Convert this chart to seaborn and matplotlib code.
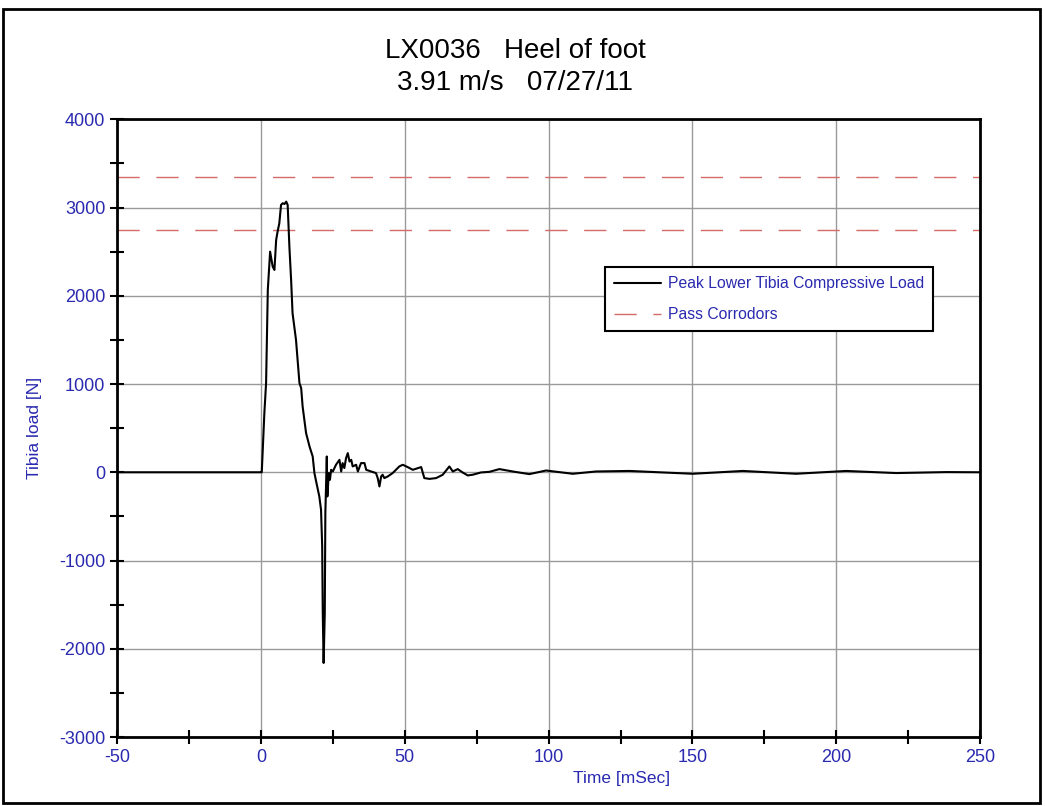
import numpy as np
import pandas as pd
import matplotlib
matplotlib.use("Agg")
import matplotlib.pyplot as plt
from matplotlib.patches import Rectangle
from matplotlib.ticker import MultipleLocator
import seaborn as sns

# Values
time_ms = [-50, 0, 0.3, 1.2, 1.8, 2.4, 3.2, 4.1, 4.7, 5.3, 5.8, 6.4, 7.0, 7.6, 8.2, 8.8,
           9.3, 9.9, 10.5, 11.0, 12.2, 13.4, 14.0, 14.5, 15.7, 16.9, 18.0, 18.6, 19.2,
           20.3, 20.9, 21.3, 21.5, 21.8, 22.2, 22.4, 22.9, 23.1, 23.6, 24.0, 24.4, 25.0,
           26.1, 27.3, 27.9, 28.4, 29.0, 29.6, 30.2, 30.8, 31.4, 31.9, 33.1, 33.7, 34.8,
           36.0, 36.6, 38.3, 40.0, 40.6, 41.2, 41.8, 42.3, 42.9, 44.1, 45.8, 48.1, 49.3,
           51.0, 52.8, 55.7, 56.8, 58.6, 60.9, 63.2, 65.5, 66.7, 68.4, 70.1, 71.9, 73.6,
           76.5, 79.4, 82.9, 87.5, 93.3, 99.1, 108.4, 116.5, 128.1, 139.7, 150.1, 167.5,
           186.0, 203.4, 220.8, 238.2, 250]
tibia_load = [0, 0, 0, 670, 1010, 2067, 2500, 2330, 2293, 2633, 2727, 2822, 3030, 3049,
              3040, 3067, 3030, 2557, 2180, 1803, 1500, 1010, 953, 745, 444, 292, 179, -9,
              -104, -274, -425, -840, -1595, -2161, -1595, -462, 179, -274, -9, -85, 28, 9,
              85, 141, 9, 104, 48, 161, 217, 122, 141, 66, 85, 9, 104, 104, 28, 9, -9, -66,
              -161, -47, -28, -66, -47, -9, 66, 85, 59, 28, 59, -66, -75, -66, -28, 66, 9,
              36, -2, -36, -28, -2, 5, 36, 9, -21, 20, -17, 9, 15, -2, -17, 15, -17, 15,
              -9, 2, 0]
corridor_levels = [3350, 2740]

series_label = "Peak Lower Tibia Compressive Load"
corridor_label = "Pass Corrodors"
title_text = "LX0036   Heel of foot\n3.91 m/s   07/27/11"

blue = "#2a2ab0"

sns.set_theme(style="white")
plt.rcParams["font.family"] = ["Liberation Sans", "DejaVu Sans"]
plt.rcParams["axes.unicode_minus"] = False

df = pd.DataFrame({"time": time_ms, "load": tibia_load})

fig = plt.figure(figsize=(10.45, 8.06), dpi=100)
ax = fig.add_axes([0.112, 0.0856, 0.826, 0.7664])

sns.lineplot(data=df, x="time", y="load", estimator=None, sort=False,
             color="black", linewidth=1.5, label=series_label, ax=ax, zorder=3)
for i, lvl in enumerate(corridor_levels):
    ax.axhline(lvl, color="#d46a6a", linewidth=1.0, dashes=(16, 12),
               label=corridor_label if i == 0 else None, zorder=2)

ax.set_xlim(-50, 250)
ax.set_ylim(-3000, 4000)
ax.xaxis.set_major_locator(MultipleLocator(50))
ax.xaxis.set_minor_locator(MultipleLocator(25))
ax.yaxis.set_major_locator(MultipleLocator(1000))
ax.yaxis.set_minor_locator(MultipleLocator(500))
ax.tick_params(which="both", direction="inout", length=10, width=1.5,
               colors="black", labelcolor=blue, labelsize=13,
               bottom=True, left=True, top=False, right=False)
ax.grid(True, which="major", color="#9a9a9a", linewidth=1.0)

for sp in ax.spines.values():
    sp.set_color("black")
    sp.set_linewidth(2)

ax.set_xlabel("Time [mSec]", color=blue, fontsize=12.5)
ax.xaxis.set_label_coords(0.585, -0.055)
ax.set_ylabel("Tibia load [N]", color=blue, fontsize=12.5)
ax.yaxis.set_label_coords(-0.087, 0.5)

fig.text(0.493, 0.917, title_text, ha="center", va="center",
         fontsize=20, color="black", linespacing=1.3)

leg = ax.legend(loc="upper left", bbox_to_anchor=(0.565, 0.761), borderaxespad=0,
                fontsize=11.3, frameon=True, fancybox=False, framealpha=1,
                edgecolor="black", handlelength=3.0, handletextpad=0.4,
                borderpad=0.6, labelspacing=1.0)
leg.get_frame().set_linewidth(1.5)
for txt in leg.get_texts():
    txt.set_color(blue)

fig.patches.append(Rectangle((0.003, 0.004), 0.992, 0.985, transform=fig.transFigure,
                             fill=False, edgecolor="black", linewidth=2))

fig.savefig("out.png", dpi=100)
